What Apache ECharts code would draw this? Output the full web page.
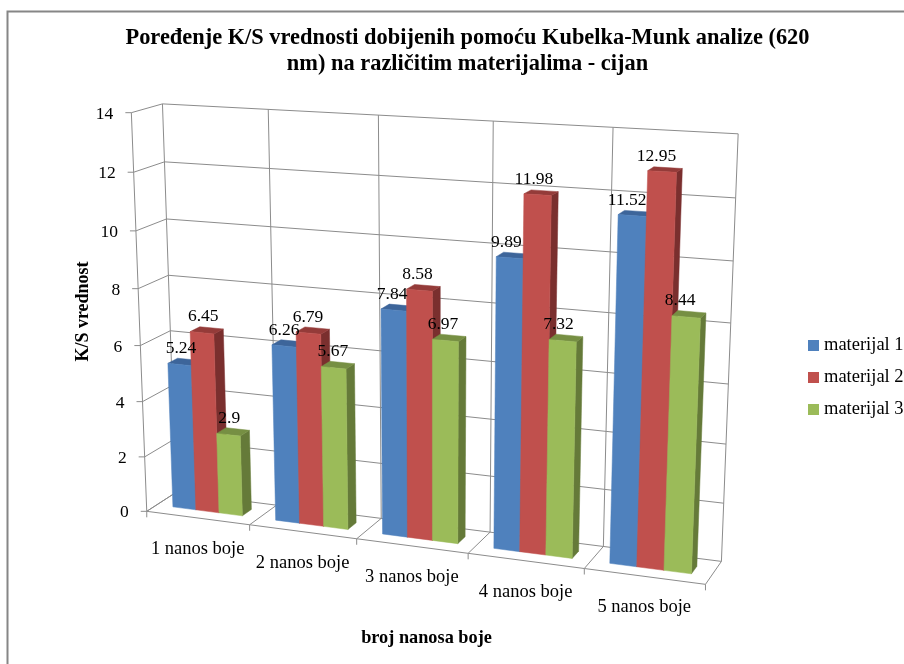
<!DOCTYPE html>
<html><head><meta charset="utf-8">
<style>html,body{margin:0;padding:0;background:#fff}#c{width:904px;height:664px}</style>
<script src="https://cdn.jsdelivr.net/npm/echarts@6/dist/echarts.min.js"></script>
</head><body><div id="c"></div>
<script>
const titleText = 'Poređenje K/S vrednosti dobijenih pomoću Kubelka-Munk analize (620\nnm) na različitim materijalima - cijan';
const categories = ['1 nanos boje','2 nanos boje','3 nanos boje','4 nanos boje','5 nanos boje'];
const seriesNames = ['materijal 1','materijal 2','materijal 3'];
const material1 = [5.24,6.26,7.84,9.89,11.52];
const material2 = [6.45,6.79,8.58,11.98,12.95];
const material3 = [2.9,5.67,6.97,7.32,8.44];
const tickValues = [0,2,4,6,8,10,12,14];
const colors = ['#4F81BD','#C0504D','#9BBB59'];
const topColors = ['#3D659A','#943B39','#768F43'];
const sideColors = ['#33557F','#7A2F2E','#657A39'];
const FONT = '"Liberation Serif"';

// Perspective calibration of the chart box: [u, v, depth, screenX, screenY]
const frameAnchors = [
 [0,0,0,148,511],[.2,0,0,250,525],[.4,0,0,357,539],[.6,0,0,468,554],[.8,0,0,584,568],[1,0,0,705,585],
 [0,1,0,131.5,112.5],[0,6/7,0,133,172],[0,5/7,0,135.5,231],[0,4/7,0,138,288],
 [0,0,1,174,493],[.6,0,1,491,532],[.8,0,1,603,547],[1,0,1,722,561],
 [0,1,1,162.7,104],[.2,1,1,268,110],[.4,1,1,378,115],[.6,1,1,493,122],[.8,1,1,613,128],[1,1,1,739,133],
 [0,6/7,1,164,162],[0,5/7,1,167,219],[0,4/7,1,169,275],[0,3/7,1,171,330],
 [1,6/7,1,736,198],[1,5/7,1,733,261],[1,4/7,1,731,323],[1,3/7,1,728,383],[1,2/7,1,726,444],[1,1/7,1,723,503]
];
function solveProjection(pts){
  const n=11, A=[...Array(n)].map(()=>Array(n+1).fill(0));
  const add=(r,b)=>{for(let i=0;i<n;i++){for(let j=0;j<n;j++)A[i][j]+=r[i]*r[j];A[i][n]+=r[i]*b;}};
  pts.forEach(([X,Y,Z,x,y])=>{x/=1000;y/=1000;
    add([X,Y,Z,1,0,0,0,0,-x*X,-x*Y,-x*Z],x);
    add([0,0,0,0,X,Y,Z,1,-y*X,-y*Y,-y*Z],y);});
  for(let i=0;i<n;i++){let m=i;for(let k=i+1;k<n;k++)if(Math.abs(A[k][i])>Math.abs(A[m][i]))m=k;
    [A[i],A[m]]=[A[m],A[i]];
    for(let k=0;k<n;k++){if(k===i)continue;const f=A[k][i]/A[i][i];for(let j=i;j<=n;j++)A[k][j]-=f*A[i][j];}}
  return A.map((r,i)=>r[n]/r[i]);
}
const P=solveProjection(frameAnchors);
function project(u,v,w){const d=P[8]*u+P[9]*v+P[10]*w+1;
  return [1000*(P[0]*u+P[1]*v+P[2]*w+P[3])/d,1000*(P[4]*u+P[5]*v+P[6]*w+P[7])/d];}
// grid pixel -> normalised -> screen
function warp(cs,px,py,w){return project((px-cs.x)/cs.width,(cs.y+cs.height-py)/cs.height,w);}

const DEPTH0=.34, DEPTH1=.67, MARGIN=.16, BAR=(1-2*MARGIN)/3;
const LINE='#8C8C8C';
const seg=(a,b,c)=>({type:'line',silent:true,shape:{x1:a[0],y1:a[1],x2:b[0],y2:b[1]},style:{stroke:c||LINE,lineWidth:1,fill:null}});
const poly=(pts,fill,z2)=>({type:'polygon',shape:{points:pts},style:{fill:fill,stroke:fill,lineWidth:.5},z2:z2||0});

function barItem(si){return function(params,api){
  const cs=params.coordSys,c=api.value(0),val=api.value(1);
  const tp=api.coord([c,val]),bp=api.coord([c,0]),band=api.size([1,0])[0];
  const x0=tp[0]-band/2+band*(MARGIN+si*BAR),x1=x0+band*BAR;
  const f=(x,y,w)=>warp(cs,x,y,w),t=tp[1],b=bp[1];
  const lab=f((x0+x1)/2,t,DEPTH1);
  const shift=8+4*((x0-cs.x)/cs.width);
  return {type:'group',children:[
    poly([f(x1,t,DEPTH0),f(x1,t,DEPTH1),f(x1,b,DEPTH1),f(x1,b,DEPTH0)],sideColors[si]),
    poly([f(x0,t,DEPTH0),f(x1,t,DEPTH0),f(x1,t,DEPTH1),f(x0,t,DEPTH1)],topColors[si]),
    poly([f(x0,t,DEPTH0),f(x1,t,DEPTH0),f(x1,b,DEPTH0),f(x0,b,DEPTH0)],colors[si]),
    {type:'text',x:lab[0]-shift,y:lab[1]-11,z2:100,silent:true,style:{text:String(val),fill:'#000',fontFamily:FONT,fontSize:17.5,align:'center',verticalAlign:'middle'}}
  ]};
};}

// walls: horizontal grid lines and y tick labels
function wallItem(params,api){
  const cs=params.coordSys,v=api.value(0),py=api.coord([0,v])[1],L=cs.x,R=cs.x+cs.width;
  const a=warp(cs,L,py,0),b=warp(cs,L,py,1),c=warp(cs,R,py,1);
  return {type:'group',children:[seg(a,b),seg(b,c),seg([a[0]-6,a[1]],a),
    {type:'text',x:a[0]-18,y:a[1]+1.5,style:{text:String(v),fill:'#000',fontFamily:FONT,fontSize:17.5,align:'right',verticalAlign:'middle'}}]};
}
// floor and back wall: per-category lines, labels
function floorItem(params,api){
  const cs=params.coordSys,i=api.value(0),band=api.size([1,0])[0],cp=api.coord([i,0]),top=api.coord([i,14])[1];
  const kids=[];
  const lineAt=x=>{const a=warp(cs,x,cp[1],0),b=warp(cs,x,cp[1],1),t=warp(cs,x,top,1);
    kids.push(seg(a,b),seg(b,t),seg(a,[a[0],a[1]+6]));return a;};
  const r=lineAt(cp[0]+band/2);
  const l=i===0?lineAt(cp[0]-band/2):warp(cs,cp[0]-band/2,cp[1],0);
  kids.push(seg(l,r));
  const m=warp(cs,cp[0],cp[1],0);
  kids.push({type:'text',x:m[0],y:m[1]+31,style:{text:categories[i],fill:'#000',fontFamily:FONT,fontSize:18.5,align:'center',verticalAlign:'middle'}});
  return {type:'group',children:kids};
}
function frontAxis(params,api){
  const cs=params.coordSys,a=api.coord([0,0]),b=api.coord([0,14]);
  return seg(warp(cs,cs.x,a[1],0),warp(cs,cs.x,b[1],0));
}

const chart=echarts.init(document.getElementById('c'),null,{renderer:'canvas'});
const materials=[material1,material2,material3];
chart.setOption({
  backgroundColor:'#fff',animation:false,
  graphic:[{type:'rect',silent:true,shape:{x:7.5,y:11.5,width:1000,height:1000},style:{fill:null,stroke:'#868686',lineWidth:2}}],
  title:{text:titleText,left:462.5,top:20,textAlign:'center',textStyle:{fontFamily:FONT,fontSize:22.4,fontWeight:'bold',color:'#000',lineHeight:26}},
  legend:{orient:'vertical',left:803,top:331,itemWidth:11,itemHeight:11,itemGap:13,icon:'rect',data:seriesNames,selectedMode:false,
    textStyle:{fontFamily:FONT,fontSize:18.5,color:'#000',padding:[0,0,0,0]}},
  grid:{left:148,top:112,width:557,height:399},
  xAxis:{type:'category',data:categories,axisLine:{show:false},axisTick:{show:false},axisLabel:{show:false},splitLine:{show:false},
    name:'broj nanosa boje',nameLocation:'middle',nameGap:118,nameTextStyle:{fontFamily:FONT,fontSize:18.3,fontWeight:'bold',color:'#000'}},
  yAxis:{type:'value',min:0,max:14,interval:2,axisLine:{show:false},axisTick:{show:false},axisLabel:{show:false},splitLine:{show:false},
    name:'K/S vrednost',nameLocation:'middle',nameGap:56,nameTextStyle:{fontFamily:FONT,fontSize:18,fontWeight:'bold',color:'#000'}},
  tooltip:{show:false},
  series:[
    {type:'custom',name:'frontAxis',silent:true,data:[[0]],renderItem:frontAxis},
    {type:'custom',name:'walls',silent:true,data:tickValues.map(v=>[v]),encode:{y:0},renderItem:wallItem},
    {type:'custom',name:'floor',silent:true,data:categories.map((c,i)=>[i]),encode:{x:0},renderItem:floorItem}
  ].concat(materials.map((vals,si)=>({
    type:'custom',name:seriesNames[si],silent:true,itemStyle:{color:colors[si]},
    encode:{x:0,y:1},data:vals.map((v,i)=>[i,v]),renderItem:barItem(si)
  })))
});
</script></body></html>
